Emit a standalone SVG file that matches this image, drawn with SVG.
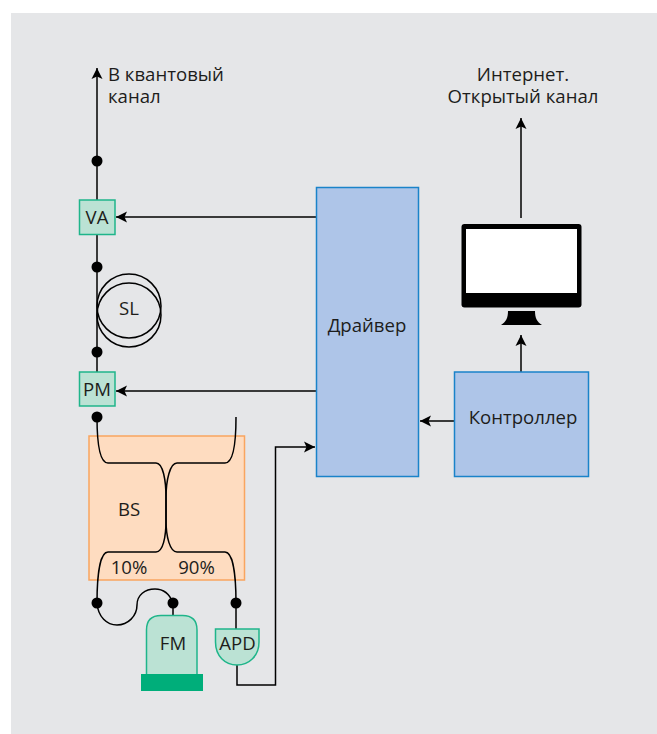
<svg xmlns="http://www.w3.org/2000/svg" width="657" height="734" viewBox="0 0 657 734">
<style>
text{font-family:"Open Sans","Noto Sans",sans-serif;font-size:18.600px;fill:#1d1d1b}
.m{text-anchor:middle}
.g{fill:#bbe2d4;stroke:#1fb58a;stroke-width:1.5}
.b{fill:#aec5e8;stroke:#1a83c9;stroke-width:1.5}
.w{fill:none;stroke:#000;stroke-width:1.5}
.d{fill:#000}
</style>
<defs>
<marker id="a" markerUnits="userSpaceOnUse" markerWidth="12" markerHeight="12" refX="11" refY="6" orient="auto"><path d="M0 0.5L11 6L0 11.5L2.5 6Z" fill="#000"/></marker>
</defs>
<rect x="0" y="0" width="657" height="734" fill="#fff"/>
<rect x="11" y="13" width="646" height="721" fill="#e5e6e8"/>
<g id="bs"><rect x="89" y="436" width="155.500" height="144" fill="#fedcc0" stroke="#f9a55f" stroke-width="1.500"/><text class="m" x="129" y="516">BS</text><text class="m" x="129" y="574">10%</text><text class="m" x="196.500" y="574">90%</text></g>
<g id="connectors">
<path class="w" marker-end="url(#a)" d="M97 200V68"/>
<path class="w" d="M97 235V372"/>
<path class="w" marker-end="url(#a)" d="M316 217H116"/>
<path class="w" marker-end="url(#a)" d="M316 391H116"/>
<path class="w" d="M97 417C97 445 100 463 108 463H156C163 463 166 480 166 498V520C166 537 163 552 156 552H108C100 552 97 575 97 603"/>
<path class="w" d="M236 417C236 445 233 463 225 463H177C170 463 166 480 166 498V520C166 537 170 552 177 552H225C233 552 236 575 236 603"/>
<path class="w" d="M97 603C98 617 107 625 117 625C128 625 137 616 137 605C137 595 145 589 155 589C164 589 170 595 173 603V616"/>
<path class="w" d="M236 603V629"/>
<path class="w" marker-end="url(#a)" d="M237 665V685H275.500V447H315"/>
<path class="w" marker-end="url(#a)" d="M454 421H420"/>
<path class="w" marker-end="url(#a)" d="M521 372V335"/>
<path class="w" marker-end="url(#a)" d="M521 218V118"/>
<circle class="d" cx="97" cy="161" r="5.500"/>
<circle class="d" cx="97" cy="267" r="5.500"/>
<circle class="d" cx="97" cy="352" r="5.500"/>
<circle class="d" cx="97" cy="417" r="5.500"/>
<circle class="d" cx="97" cy="603" r="5.500"/>
<circle class="d" cx="173" cy="603" r="5.500"/>
<circle class="d" cx="236" cy="603" r="5.500"/>
</g>
<g id="va"><rect class="g" x="79.500" y="200" width="35.500" height="34.500"/><text class="m" x="97" y="224">VA</text></g>
<g id="sl"><circle class="w" cx="129" cy="306" r="32"/><circle class="w" cx="129" cy="315" r="32"/><text class="m" x="129" y="315">SL</text></g>
<g id="pm"><rect class="g" x="79.500" y="372" width="35.500" height="34"/><text class="m" x="97" y="396">PM</text></g>
<g id="fm"><path class="g" d="M146.500 674V630Q146.500 615.500 161 615.500H182.500Q197 615.500 197 630V674"/><rect x="141" y="674" width="62" height="17" fill="#00ae7a"/><text class="m" x="173" y="650">FM</text></g>
<g id="apd"><path class="g" d="M215.500 629H259V642C259 656 249 665 237 665C225 665 215.500 656 215.500 642Z"/><text class="m" x="237.500" y="650">APD</text></g>
<g id="driver"><rect class="b" x="316.500" y="187.500" width="102" height="289"/><text class="m" x="367" y="332">Драйвер</text></g>
<g id="controller"><rect class="b" x="454.500" y="372" width="134" height="104.500"/><text class="m" x="523" y="424">Контроллер</text></g>
<g id="monitor"><rect x="461.500" y="224" width="120" height="83.500" rx="3" fill="#000"/><rect x="466" y="229" width="111" height="64" fill="#fff"/><path d="M508 311H535C535 318 537 322 542 325H501C506 322 508 318 508 311Z" fill="#000"/></g>
<g id="labels"><text><tspan x="108" y="81">В квантовый</tspan><tspan x="108" y="103">канал</tspan></text><text class="m"><tspan x="523" y="81">Интернет.</tspan><tspan x="523" y="103">Открытый канал</tspan></text></g>
</svg>
